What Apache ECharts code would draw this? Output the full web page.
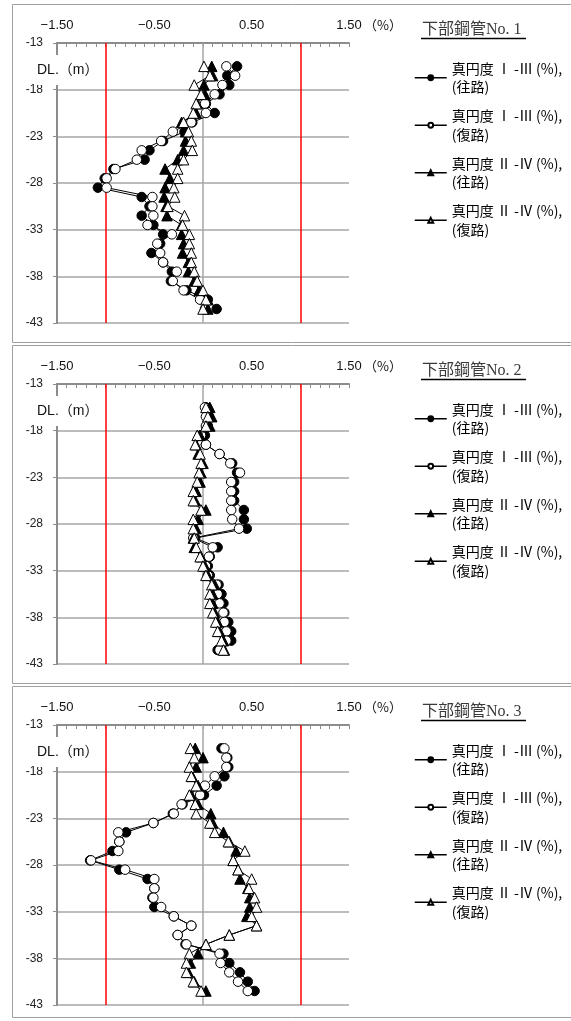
<!DOCTYPE html>
<html>
<head>
<meta charset="utf-8">
<script src="https://cdn.jsdelivr.net/npm/echarts@6/dist/echarts.min.js"></script>
<style>
  html, body { margin: 0; padding: 0; background: #fff; }
  #chart { width: 571px; height: 1021px; }
</style>
</head>
<body>
<div id="chart"></div>
<script>
// 深度 DL.(m)
const depths = [-15.5, -16.5, -17.5, -18.5, -19.5, -20.5, -21.5, -22.5, -23.5, -24.5, -25.5, -26.5, -27.5, -28.5,
  -29.5, -30.5, -31.5, -32.5, -33.5, -34.5, -35.5, -36.5, -37.5, -38.5, -39.5, -40.5, -41.5];

const seriesNames = ['真円度 Ⅰ -Ⅲ (%),(往路)', '真円度 Ⅰ -Ⅲ (%),(復路)', '真円度 Ⅱ -Ⅳ (%),(往路)', '真円度 Ⅱ -Ⅳ (%),(復路)'];
const panelTitles = ['下部鋼管No. 1', '下部鋼管No. 2', '下部鋼管No. 3'];
const limitLines = [-1, 1];
const zeroLine = 0;

// 下部鋼管No.1
const p1Fwd13 = [0.35, 0.25, 0.27, 0.17, 0.03, 0.12, -0.11, -0.19, -0.41, -0.55, -0.60, -0.92, -1.01, -1.08,
  -0.63, -0.55, -0.63, -0.51, -0.41, -0.44, -0.53, -0.41, -0.32, -0.33, -0.17, 0.05, 0.14];
const p1Ret13 = [0.24, 0.33, 0.20, 0.12, 0.02, 0.03, -0.12, -0.31, -0.43, -0.63, -0.68, -0.90, -0.99, -0.99,
  -0.52, -0.52, -0.51, -0.57, -0.32, -0.47, -0.44, -0.41, -0.27, -0.31, -0.20, -0.03, 0.02];
const p1Fwd24 = [0.09, 0.10, 0.01, 0.02, -0.06, -0.07, -0.22, -0.18, -0.18, -0.20, -0.26, -0.39, -0.34, -0.39,
  -0.40, -0.38, -0.37, -0.22, -0.22, -0.20, -0.21, -0.15, -0.15, -0.09, -0.04, 0.05, 0.05];
const p1Ret24 = [0.01, 0.07, -0.09, -0.02, -0.07, -0.10, -0.20, -0.15, -0.12, -0.11, -0.20, -0.26, -0.26, -0.30,
  -0.29, -0.36, -0.19, -0.21, -0.14, -0.14, -0.12, -0.12, -0.09, -0.06, 0.00, 0.03, 0.00];

// 下部鋼管No.2
const p2Fwd13 = [0.03, 0.06, 0.05, 0.02, 0.03, 0.17, 0.30, 0.35, 0.32, 0.32, 0.32, 0.42, 0.42, 0.45,
  -0.08, 0.15, 0.07, 0.05, 0.07, 0.16, 0.19, 0.21, 0.22, 0.26, 0.29, 0.29, 0.15];
const p2Ret13 = [0.02, 0.03, 0.03, -0.02, 0.03, 0.17, 0.28, 0.38, 0.29, 0.29, 0.29, 0.29, 0.30, 0.37,
  -0.10, 0.10, 0.06, 0.03, 0.05, 0.14, 0.15, 0.17, 0.21, 0.22, 0.24, 0.24, 0.17];
const p2Fwd24 = [0.07, 0.09, 0.07, -0.03, -0.07, -0.05, 0.00, -0.02, -0.03, -0.07, -0.08, 0.03, -0.05, -0.07,
  -0.10, -0.09, -0.02, 0.02, 0.05, 0.12, 0.10, 0.10, 0.12, 0.15, 0.17, 0.21, 0.22];
const p2Ret24 = [0.03, 0.05, 0.03, -0.06, -0.08, -0.03, -0.02, -0.04, -0.06, -0.10, -0.10, -0.02, -0.10, -0.10,
  -0.09, -0.07, -0.03, 0.00, 0.03, 0.09, 0.07, 0.07, 0.10, 0.13, 0.15, 0.19, 0.21];

// 下部鋼管No.3
const p3Fwd13 = [0.19, 0.25, 0.26, 0.22, 0.14, 0.01, -0.21, -0.31, -0.51, -0.79, -0.86, -0.93, -1.16, -0.86,
  -0.57, -0.50, -0.52, -0.50, -0.30, -0.12, -0.26, -0.18, 0.21, 0.27, 0.38, 0.46, 0.53];
const p3Ret13 = [0.22, 0.24, 0.24, 0.12, 0.02, -0.03, -0.22, -0.30, -0.51, -0.87, -0.86, -0.87, -1.15, -0.80,
  -0.50, -0.50, -0.51, -0.43, -0.30, -0.12, -0.26, -0.17, 0.17, 0.18, 0.27, 0.36, 0.46];
const p3Fwd24 = [-0.08, 0.00, -0.07, -0.11, -0.05, -0.12, -0.05, 0.08, 0.10, 0.21, 0.27, 0.34, 0.31, 0.36,
  0.38, 0.46, 0.48, 0.48, 0.45, 0.55, 0.27, 0.03, -0.05, -0.13, -0.15, -0.09, 0.03];
const p3Ret24 = [-0.13, -0.09, -0.14, -0.12, -0.07, -0.14, -0.08, -0.07, 0.07, 0.12, 0.26, 0.43, 0.31, 0.36,
  0.50, 0.47, 0.53, 0.55, 0.50, 0.55, 0.27, 0.03, -0.14, -0.17, -0.17, -0.10, -0.02];

const panels = [
  [p1Fwd13, p1Ret13, p1Fwd24, p1Ret24],
  [p2Fwd13, p2Ret13, p2Fwd24, p2Ret24],
  [p3Fwd13, p3Ret13, p3Fwd24, p3Ret24]
];

const markers = [
  { symbol: 'circle', size: 9.5, fill: '#000' },
  { symbol: 'circle', size: 9.5, fill: '#fff' },
  { symbol: 'triangle', size: 10.5, fill: '#000' },
  { symbol: 'triangle', size: 10.5, fill: '#fff' }
];

const STEP = 341;          // 各パネルの縦間隔
const AXIS_GRAY = '#8c8c8c';
const GRID_GRAY = '#a6a6a6';
const SANS = 'Liberation Sans, Noto Sans CJK JP, sans-serif';
const JP = 'Noto Sans CJK JP, sans-serif';

var myChart = echarts.init(document.getElementById('chart'), null, { renderer: 'canvas' });

var grids = [], xAxes = [], yAxes = [], series = [], legends = [], graphics = [];

panels.forEach(function (sets, p) {
  var top = 43 + p * STEP;
  grids.push({ left: 57, top: top, width: 292, height: 280 });

  xAxes.push({
    type: 'value', gridIndex: p, position: 'top',
    min: -1.5, max: 1.5, interval: 1,
    axisLine: { show: true, onZero: false, lineStyle: { color: AXIS_GRAY, width: 2 } },
    axisTick: { show: true, inside: true, length: 4, lineStyle: { color: AXIS_GRAY, width: 1 } },
    minorTick: { show: true, splitNumber: 10, length: 4, lineStyle: { color: AXIS_GRAY, width: 1 } },
    axisLabel: {
      margin: 11, fontSize: 13, color: '#111', fontFamily: SANS,
      formatter: function (v) { return v.toFixed(2).replace('-', '−'); }
    },
    splitLine: { show: false }
  });

  yAxes.push({
    type: 'value', gridIndex: p, position: 'left',
    min: -43, max: -13, interval: 5,
    axisLine: { show: true, onZero: false, lineStyle: { color: AXIS_GRAY, width: 2 } },
    axisTick: { show: true, length: 4, lineStyle: { color: AXIS_GRAY, width: 1 } },
    axisLabel: { margin: 14, fontSize: 12, color: '#222', fontFamily: SANS },
    splitLine: { show: true, lineStyle: { color: GRID_GRAY, width: 1.5 } }
  });

  sets.forEach(function (vals, k) {
    var s = {
      name: seriesNames[k],
      type: 'line',
      xAxisIndex: p, yAxisIndex: p,
      data: vals.map(function (v, i) { return [v, depths[i]]; }),
      symbol: markers[k].symbol,
      symbolSize: markers[k].size,
      showAllSymbol: true,
      lineStyle: { color: '#000', width: 1 },
      itemStyle: { color: markers[k].fill, borderColor: '#000', borderWidth: 1 },
      emphasis: { disabled: true },
      z: 3 + k
    };
    if (k === 0) {
      s.markLine = {
        silent: true, z: 1, symbol: ['none', 'none'],
        label: { show: false },
        data: [{ xAxis: zeroLine, lineStyle: { color: GRID_GRAY, width: 1.5, type: 'solid' } }].concat(
          limitLines.map(function (v) {
            return { xAxis: v, lineStyle: { color: '#ff0000', width: 1.5, type: 'solid' } };
          }))
      };
    }
    series.push(s);
  });

  legends.push({
    orient: 'vertical', left: 414, top: 50 + p * STEP, padding: 0,
    itemWidth: 32, itemHeight: 6, itemGap: -8,
    selectedMode: false,
    data: seriesNames,
    formatter: function (name) { return name.replace(',(', ',\n('); },
    lineStyle: { width: 1.5 },
    textStyle: { fontSize: 14, lineHeight: 18.5, color: '#000', fontFamily: JP, padding: [18.5, 0, 0, 0] }
  });

  // パネル枠
  graphics.push({
    type: 'rect', z: 0, silent: true,
    shape: { x: 12.5, y: 4.5 + p * STEP, width: 570, height: p === 2 ? 331 : 338 },
    style: { fill: 'none', stroke: '#a0a0a0', lineWidth: 1 }
  });
  // DL.(m)
  graphics.push({
    type: 'text', z: 20, silent: true, x: 35, y: 70 + p * STEP,
    style: {
      text: 'DL.（m）', fontSize: 14, fontFamily: SANS, fill: '#111',
      verticalAlign: 'middle', backgroundColor: '#fff', padding: [14, 2, 2, 2]
    }
  });
  // (%)
  graphics.push({
    type: 'text', z: 20, silent: true, x: 364, y: 25 + p * STEP,
    style: { text: '（%）', fontSize: 13, fontFamily: JP, fill: '#111', verticalAlign: 'middle' }
  });
  // 見出し
  graphics.push({
    type: 'text', z: 20, silent: true, x: 422, y: 30 + p * STEP,
    style: {
      text: panelTitles[p], fontSize: 16, fontFamily: 'Liberation Serif, Noto Sans CJK JP, serif',
      fill: '#3a3a3a', verticalAlign: 'middle'
    }
  });
  graphics.push({
    type: 'line', z: 20, silent: true,
    shape: { x1: 421, y1: 38.5 + p * STEP, x2: 526, y2: 38.5 + p * STEP },
    style: { stroke: '#000', lineWidth: 1.5 }
  });
});

var option = {
  animation: false,
  backgroundColor: '#fff',
  grid: grids,
  xAxis: xAxes,
  yAxis: yAxes,
  legend: legends,
  series: series,
  graphic: graphics
};

if (option && typeof option === 'object') {
  myChart.setOption(option);
}
</script>
</body>
</html>
